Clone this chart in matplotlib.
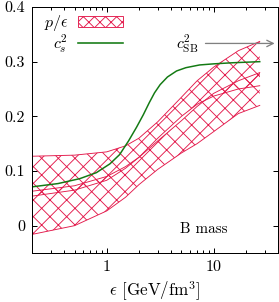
import matplotlib
matplotlib.use("Agg")
import matplotlib.pyplot as plt
from matplotlib.patches import Patch
from matplotlib.lines import Line2D

RED = "#e3194b"; GREEN = "#137a13"; GREY = "#808080"
DPI = 100
S = 72 / DPI  # sizes below were tuned in pixels; convert to points
plt.rcParams.update({"font.family": "cmr10", "mathtext.fontset": "cm",
                     "axes.formatter.use_mathtext": True, "font.size": 16 * S,
                     "hatch.linewidth": 0.9 * S, "axes.linewidth": 1.0 * S})

# energy density grid (GeV/fm^3) for the p/eps bands
eps = [0.2, 0.5, 1.0, 1.5, 2.0, 3.0, 5.0, 7.0, 10.0, 17.0, 27.0]
# upper band (p/eps)
up_hi = [0.127, 0.129, 0.135, 0.146, 0.160, 0.190, 0.235, 0.265, 0.290, 0.320, 0.337]
up_lo = [0.054, 0.065, 0.083, 0.105, 0.125, 0.160, 0.200, 0.222, 0.237, 0.250, 0.256]
# lower band (p/eps)
lo_hi = [0.063, 0.073, 0.090, 0.108, 0.125, 0.155, 0.192, 0.218, 0.242, 0.265, 0.280]
lo_lo = [-0.016, 0.000, 0.027, 0.052, 0.075, 0.103, 0.133, 0.150, 0.172, 0.205, 0.220]

# speed of sound squared
cs_eps = [0.2, 0.35, 0.56, 0.8, 1.07, 1.32, 1.6, 1.9, 2.2, 2.5, 2.8, 3.16, 3.7, 4.5, 5.5, 7.4, 10.0, 15.0, 27.0]
cs2 = [0.071, 0.077, 0.086, 0.097, 0.113, 0.130, 0.155, 0.180, 0.203, 0.225, 0.243, 0.258, 0.272, 0.283, 0.289, 0.294, 0.296, 0.298, 0.300]

cs2_sb = 1.0 / 3.0

fig = plt.figure(figsize=(279 / DPI, 302 / DPI), dpi=DPI)
ax = fig.add_axes([32 / 279, 49 / 302, 246 / 279, 246 / 302])

for lo, hi in [(up_lo, up_hi), (lo_lo, lo_hi)]:
    ax.fill_between(eps, lo, hi, facecolor="none", edgecolor=RED, hatch="xx", linewidth=0)
    ax.plot(eps, lo, color=RED, lw=0.9 * S)
    ax.plot(eps, hi, color=RED, lw=0.9 * S)

ax.plot(cs_eps, cs2, color=GREEN, lw=1.5 * S)

ax.annotate("", xy=(39.5, cs2_sb), xytext=(7.9, cs2_sb),
            arrowprops=dict(arrowstyle="->", color=GREY, lw=1.3 * S))
ax.text(7.2, cs2_sb, r"$c^2_{\rm SB}$", ha="right", va="center", fontsize=16 * S)
ax.text(0.70, 0.095, "B mass", transform=ax.transAxes, ha="center", va="center", fontsize=15 * S)

ax.set_xscale("log")
ax.set_xlim(0.2, 40)
ax.set_ylim(-0.05, 0.4)
ax.set_xticks([1, 10])
ax.set_xticklabels(["1", "10"])
ax.set_yticks([0, 0.1, 0.2, 0.3, 0.4])
ax.set_yticklabels(["0", "0.1", "0.2", "0.3", "0.4"])
ax.tick_params(which="both", direction="in", top=True, right=True, labelsize=16 * S,
               width=1.0 * S)
ax.tick_params(which="major", length=5 * S, pad=7 * S)
ax.tick_params(which="minor", length=3 * S)
ax.set_xlabel(r"$\epsilon$ [GeV/fm$^3$]", labelpad=6 * S, fontsize=17 * S)

handles = [Patch(facecolor="none", edgecolor=RED, hatch="xxx", lw=0.9 * S),
           Line2D([], [], color=GREEN, lw=1.6 * S)]
ax.legend(handles, [r"$p/\epsilon$", r"$c_s^2$"], loc="upper right",
          bbox_to_anchor=(0.395, 1.0), frameon=False, markerfirst=False,
          handlelength=2.8, handletextpad=0.6, labelspacing=-0.05,
          borderaxespad=0.2, borderpad=0.2, fontsize=16 * S)

fig.savefig("out.png", dpi=DPI)
